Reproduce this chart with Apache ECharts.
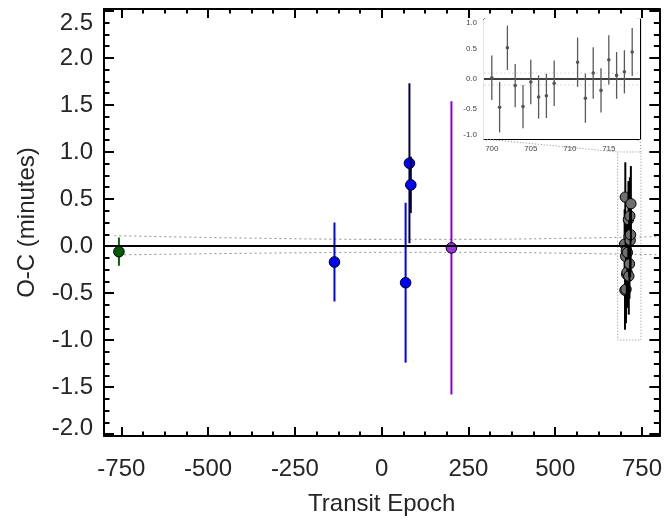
<!DOCTYPE html>
<html>
<head>
<meta charset="utf-8">
<script src="https://cdn.jsdelivr.net/npm/echarts@6/dist/echarts.min.js"></script>
<style>
html,body{margin:0;padding:0;background:#fff;}
#chart{width:665px;height:521px;}
</style>
</head>
<body>
<div id="chart"></div>
<script>
// ---------------- data ----------------
const greenEpoch = [-757];
const greenOC    = [-0.06];
const greenErr   = [0.15];

const blueEpochA = [-136, 69];
const blueOCA    = [-0.17, -0.39];
const blueErrA   = [0.42, 0.85];

const blueEpochB = [80, 84];
const blueOCB    = [0.88, 0.65];
const blueErrB   = [0.85, 0.30];

const purpleEpoch = [201];
const purpleOC    = [-0.02];
const purpleErr   = [1.56];

const clusterEpoch = [700, 701, 702, 703, 704, 705, 706, 707, 708, 711, 712, 713, 714, 715, 716, 717, 718];
const clusterOC    = [0.02, -0.47, 0.52, -0.11, -0.46, -0.05, -0.30, -0.28, -0.07, 0.28, -0.32, 0.10, -0.19, 0.32, 0.06, 0.12, 0.45];
const clusterErr   = [0.37, 0.42, 0.37, 0.36, 0.36, 0.37, 0.36, 0.37, 0.38, 0.41, 0.41, 0.43, 0.37, 0.41, 0.39, 0.36, 0.40];

// ephemeris uncertainty envelope (dotted)
const envEpoch = [-770, -400, 0, 250, 500, 800];
const envUpper = [0.11, 0.085, 0.071, 0.071, 0.08, 0.10];
const envLower = [-0.095, -0.078, -0.067, -0.067, -0.075, -0.093];

// axis ranges and tick labels
const X_MIN = -800, X_MAX = 800;
const Y_MIN = -2.02, Y_MAX = 2.52;
const xMajorTicks = [-750, -500, -250, 0, 250, 500, 750];
const yMajorTicks = [-2.0, -1.5, -1.0, -0.5, 0.0, 0.5, 1.0, 1.5, 2.0, 2.5];

const IX_MIN = 699, IX_MAX = 719;
const IY_MIN = -1, IY_MAX = 1;
const insetXTicks = [700, 705, 710, 715];
const insetYTicks = [-1.0, -0.5, 0.0, 0.5, 1.0];
const insetEnvEpoch = [699, 719];
const insetEnvUpper = [0.1, 0.1];
const insetEnvLower = [-0.1, -0.1];

// zoom box in main coordinates
const zoomBoxEpoch = [680, 747];
const zoomBoxOC = [-1.0, 1.0];

// -------------- helpers --------------
function subdivide(majors, n, lo, hi) {
  const step = (majors[1] - majors[0]) / n;
  const out = [];
  const r = v => Math.round(v * 10000) / 10000;
  for (let v = majors[0] - step; v > lo + 1e-9; v -= step) out.push(r(v));
  for (let i = 0; i < majors.length - 1; i++)
    for (let k = 1; k < n; k++) out.push(r(majors[i] + k * step));
  for (let v = majors[majors.length - 1] + step; v < hi - 1e-9; v += step) out.push(r(v));
  return out;
}
const xMinorTicks = subdivide(xMajorTicks, 4, X_MIN, X_MAX);
const yMinorTicks = subdivide(yMajorTicks, 4, Y_MIN, Y_MAX);
const insetXMinor = subdivide(insetXTicks, 5, IX_MIN, IX_MAX);
const insetYMinor = subdivide(insetYTicks, 5, IY_MIN, IY_MAX);

const FONT = 'Liberation Sans, Arial, Helvetica, sans-serif';
const TXT = '#262626';
const FS = 24;

function axis(grid, pos, min, max, ticks, len, lw, showLine, label) {
  const a = {
    type: 'value', gridIndex: grid, position: pos, min: min, max: max,
    splitLine: {show: false},
    axisLine: {show: showLine, onZero: false, lineStyle: {color: '#000', width: lw}},
    axisTick: {show: true, inside: true, length: len, customValues: ticks, lineStyle: {color: '#000', width: lw}},
    axisLabel: {show: false},
    silent: true
  };
  if (label) Object.assign(a, label(ticks));
  return a;
}

const zip = (a, b, c) => a.map((v, i) => [v, b[i], c[i]]);
const zip2 = (a, b) => a.map((v, i) => [v, b[i]]);

function errSeries(data, xi, yi, barColor, fill, r, barW, strokeW, z) {
  return {
    type: 'custom', xAxisIndex: xi, yAxisIndex: yi, z: z, silent: true,
    encode: {x: 0, y: 1},
    data: data,
    renderItem: function (params, api) {
      const x = api.value(0), y = api.value(1), e = api.value(2);
      const t = api.coord([x, y + e]), b = api.coord([x, y - e]), c = api.coord([x, y]);
      return {
        type: 'group', children: [
          {type: 'line', shape: {x1: t[0], y1: t[1], x2: b[0], y2: b[1]}, style: {stroke: barColor, lineWidth: barW}},
          {type: 'circle', shape: {cx: c[0], cy: c[1], r: r}, style: {fill: fill, stroke: strokeW > 0 ? '#000' : fill, lineWidth: strokeW}}
        ]
      };
    }
  };
}

// -------------- option --------------
const yMinLabel = yMajorTicks[0];
const mainXLabel = t => ({
  axisLabel: {show: true, customValues: t, margin: 21, fontSize: FS, color: TXT, fontFamily: FONT,
    formatter: v => String(Math.round(v))},
  name: 'Transit Epoch', nameLocation: 'middle', nameGap: 56,
  nameTextStyle: {fontSize: FS, color: TXT, fontFamily: FONT}
});
const mainYLabel = t => ({
  axisLabel: {show: true, customValues: t, margin: 11, fontSize: FS, color: TXT, fontFamily: FONT,
    formatter: v => (Math.abs(v - yMinLabel) < 1e-9 ? '{lo|' + v.toFixed(1) + '}' : v.toFixed(1)),
    rich: {lo: {fontSize: FS, color: TXT, fontFamily: FONT, padding: [0, 0, 12, 0]}},
    verticalAlignMaxLabel: 'top'},
  name: 'O-C (minutes)', nameLocation: 'middle', nameGap: 65,
  nameTextStyle: {fontSize: FS, color: TXT, fontFamily: FONT}
});
const insetXLabel = t => ({
  axisLabel: {show: true, customValues: t, margin: 6, fontSize: 8, color: '#444', fontFamily: FONT,
    formatter: v => String(Math.round(v))}
});
const insetYLabel = t => ({
  axisLabel: {show: true, customValues: t, margin: 7, fontSize: 8, color: '#444', fontFamily: FONT,
    formatter: v => v.toFixed(1), verticalAlignMaxLabel: 'top', verticalAlignMinLabel: 'bottom'}
});

const option = {
  backgroundColor: '#fff',
  animation: false,
  grid: [
    {left: 104, top: 9, width: 556, height: 427, containLabel: false},
    {left: 484, top: 19, width: 156, height: 120, containLabel: false, show: true, backgroundColor: '#fff', borderWidth: 0, z: 5}
  ],
  xAxis: [
    axis(0, 'bottom', X_MIN, X_MAX, xMajorTicks, 9, 2, true, mainXLabel),
    axis(0, 'bottom', X_MIN, X_MAX, xMinorTicks, 4.5, 2, false),
    axis(0, 'top', X_MIN, X_MAX, xMajorTicks, 9, 2, true),
    axis(0, 'top', X_MIN, X_MAX, xMinorTicks, 4.5, 2, false),
    axis(1, 'bottom', IX_MIN, IX_MAX, insetXTicks, 3.5, 1.2, true, insetXLabel),
    axis(1, 'bottom', IX_MIN, IX_MAX, insetXMinor, 1.8, 1, false),
    axis(1, 'top', IX_MIN, IX_MAX, insetXTicks, 3.5, 1.2, true),
    axis(1, 'top', IX_MIN, IX_MAX, insetXMinor, 1.8, 1, false)
  ],
  yAxis: [
    axis(0, 'left', Y_MIN, Y_MAX, yMajorTicks, 10, 2, true, mainYLabel),
    axis(0, 'left', Y_MIN, Y_MAX, yMinorTicks, 5.5, 2, false),
    axis(0, 'right', Y_MIN, Y_MAX, yMajorTicks, 10, 2, true),
    axis(0, 'right', Y_MIN, Y_MAX, yMinorTicks, 5.5, 2, false),
    axis(1, 'left', IY_MIN, IY_MAX, insetYTicks, 3.5, 1.2, true, insetYLabel),
    axis(1, 'left', IY_MIN, IY_MAX, insetYMinor, 1.8, 1, false),
    axis(1, 'right', IY_MIN, IY_MAX, insetYTicks, 3.5, 1.2, true),
    axis(1, 'right', IY_MIN, IY_MAX, insetYMinor, 1.8, 1, false)
  ],
  series: [
    {type: 'line', xAxisIndex: 0, yAxisIndex: 0, data: zip2(envEpoch, envUpper), smooth: 0.4, showSymbol: false, silent: true, z: 1,
      lineStyle: {color: '#8f8f8f', width: 1, type: [2, 3]}},
    {type: 'line', xAxisIndex: 0, yAxisIndex: 0, data: zip2(envEpoch, envLower), smooth: 0.4, showSymbol: false, silent: true, z: 1,
      lineStyle: {color: '#8f8f8f', width: 1, type: [2, 3]}},
    errSeries(zip(greenEpoch, greenOC, greenErr), 0, 0, '#006400', '#005a00', 5.3, 2, 1, 3),
    errSeries(zip(blueEpochA, blueOCA, blueErrA), 0, 0, '#0000ff', '#0000ff', 5.3, 2, 1, 3),
    errSeries(zip(blueEpochB, blueOCB, blueErrB), 0, 0, '#000040', '#0000ff', 5.3, 2, 1, 3),
    errSeries(zip(purpleEpoch, purpleOC, purpleErr), 0, 0, '#8a00d0', '#9933dd', 5.3, 2, 1, 3),
    errSeries(zip(clusterEpoch, clusterOC, clusterErr), 0, 0, '#000000', '#6e6e6e', 5.2, 2, 1, 3),
    {type: 'line', xAxisIndex: 0, yAxisIndex: 0, data: [[X_MIN, 0], [X_MAX, 0]], showSymbol: false, silent: true, z: 4,
      lineStyle: {color: '#000', width: 2}},
    // inset
    {type: 'line', xAxisIndex: 4, yAxisIndex: 4, data: zip2(insetEnvEpoch, insetEnvUpper), showSymbol: false, silent: true, z: 6,
      lineStyle: {color: '#dddddd', width: 1, type: [2, 2]}},
    {type: 'line', xAxisIndex: 4, yAxisIndex: 4, data: zip2(insetEnvEpoch, insetEnvLower), showSymbol: false, silent: true, z: 6,
      lineStyle: {color: '#dddddd', width: 1, type: [2, 2]}},
    {type: 'line', xAxisIndex: 4, yAxisIndex: 4, data: [[IX_MIN, 0], [IX_MAX, 0]], showSymbol: false, silent: true, z: 7,
      lineStyle: {color: '#000', width: 1.5}},
    errSeries(zip(clusterEpoch, clusterOC, clusterErr), 4, 4, '#5a5a5a', '#555555', 1.8, 1.3, 0, 8)
  ]
};

const chart = echarts.init(document.getElementById('chart'), null, {renderer: 'canvas'});
chart.setOption(option);

// zoom box and connector lines, positioned through the library's coordinate conversion
const boxTL = chart.convertToPixel({gridIndex: 0}, [zoomBoxEpoch[0], zoomBoxOC[1]]);
const boxBR = chart.convertToPixel({gridIndex: 0}, [zoomBoxEpoch[1], zoomBoxOC[0]]);
const inBL = chart.convertToPixel({gridIndex: 1}, [IX_MIN, IY_MIN]);
const inBR = chart.convertToPixel({gridIndex: 1}, [IX_MAX, IY_MIN]);
const dotted = {stroke: '#8a8a8a', lineWidth: 1, lineDash: [1, 2], fill: null};
chart.setOption({
  graphic: [
    {type: 'rect', silent: true, z: 2, shape: {x: boxTL[0], y: boxTL[1], width: boxBR[0] - boxTL[0], height: boxBR[1] - boxTL[1]}, style: dotted},
    {type: 'line', silent: true, z: 2, shape: {x1: inBL[0], y1: inBL[1], x2: boxTL[0], y2: boxTL[1]}, style: dotted},
    {type: 'line', silent: true, z: 2, shape: {x1: inBR[0], y1: inBR[1], x2: boxBR[0], y2: boxTL[1]}, style: dotted}
  ]
});
</script>
</body>
</html>
